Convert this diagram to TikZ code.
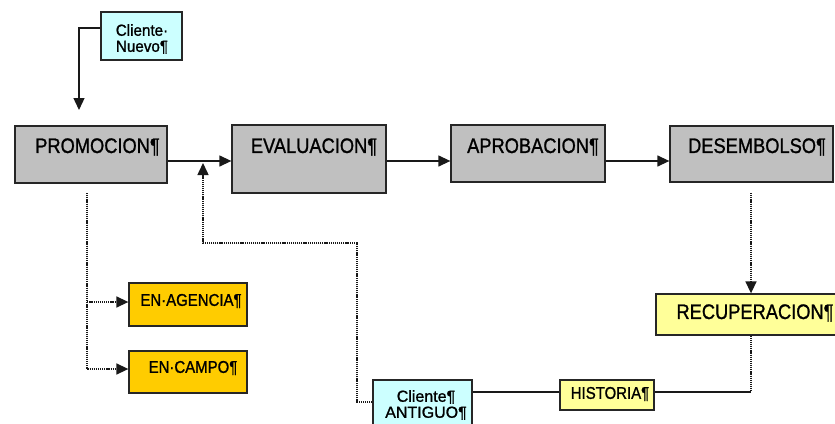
\documentclass[tikz,border=0pt]{standalone}
\usepackage{fontspec}
\setmainfont{Liberation Sans}
\newfontfamily\heavyfont[FakeBold=1.2]{Liberation Sans}
\usetikzlibrary{arrows.meta}
\definecolor{grayfill}{HTML}{C0C0C0}
\definecolor{cyanfill}{HTML}{CCFFFF}
\definecolor{orangefill}{HTML}{FFCC00}
\definecolor{yellowfill}{HTML}{FFFF99}
\newcommand{\bigtxt}[1]{\scalebox{0.87}[1]{#1}}
\newcommand{\midtxt}[1]{\scalebox{0.88}[1]{#1}}
\tikzset{
  box/.style={draw=black!85, line width=1.3pt, rectangle, inner sep=0pt},
  gbox/.style={box, fill=grayfill},
  cbox/.style={box, fill=cyanfill},
  obox/.style={box, fill=orangefill},
  ybox/.style={box, fill=yellowfill},
  biglbl/.style={inner sep=0pt, font=\heavyfont\fontsize{21}{24}\selectfont},
  midlbl/.style={inner sep=0pt, font=\heavyfont\fontsize{17}{20}\selectfont},
  smalllbl/.style={inner sep=0pt, align=center, font=\heavyfont\fontsize{16}{19}\selectfont},
  conn/.style={line width=1.3pt, draw=black!90},
  arr/.style={conn, -{Triangle[length=12pt,width=11pt]}},
  dots/.style={conn, line width=1.5pt, dash pattern=on 1.2pt off 0.9pt},
  darr/.style={dots, -{Triangle[length=12pt,width=11pt]}},
}
\begin{document}
\begin{tikzpicture}[x=1pt,y=-1pt]
\useasboundingbox (0,0) rectangle (835,423);
\clip (0,0) rectangle (835,423);
\fill[white] (0,0) rectangle (835,423);

% boxes
\node[cbox, minimum width=81pt, minimum height=48pt] (nuevo) at (141.5,36) {};
\node[smalllbl] (nuevot) at (142,39) {\scalebox{0.95}[1]{Cliente·}\\[-3pt]\scalebox{0.95}[1]{Nuevo¶}};

\node[gbox, minimum width=152pt, minimum height=57pt] (prom) at (91,154.5) {};
\node[biglbl] (promt) at (97.5,147) {\bigtxt{PROMOCION¶}};

\node[gbox, minimum width=154pt, minimum height=68pt] (eval) at (309,159) {};
\node[biglbl] (evalt) at (314,147) {\bigtxt{EVALUACION¶}};

\node[gbox, minimum width=154pt, minimum height=57pt] (aprob) at (528,153.5) {};
\node[biglbl] (aprobt) at (533,147) {\bigtxt{APROBACION¶}};

\node[gbox, minimum width=163pt, minimum height=56pt] (desem) at (751.5,154) {};
\node[biglbl] (desemt) at (757,147) {\bigtxt{DESEMBOLSO¶}};

\node[ybox, minimum width=183pt, minimum height=41pt] (recup) at (747.5,314.5) {};
\node[biglbl] (recupt) at (755,313) {\bigtxt{RECUPERACION¶}};

\node[obox, minimum width=118pt, minimum height=43pt] (agen) at (188,304.5) {};
\node[midlbl] (agent) at (191,301) {\midtxt{EN·AGENCIA¶}};

\node[obox, minimum width=118pt, minimum height=42pt] (campo) at (188,372) {};
\node[midlbl] (campot) at (193,368) {\midtxt{EN·CAMPO¶}};

\node[ybox, minimum width=94pt, minimum height=30pt] (hist) at (607,395) {};
\node[midlbl] (histt) at (610,394) {\midtxt{HISTORIA¶}};

\node[cbox, minimum width=99pt, minimum height=60pt] (antig) at (422.5,410) {};
\node[smalllbl] (antigt) at (426,405) {Cliente¶\\[-3pt]ANTIGUO¶};

% helper coordinates
\coordinate (nuevoend) at (79,110);
\coordinate (promout) at (87,193);
\coordinate (desemout) at (751,193);
\coordinate (recupturn) at (751,392);
\coordinate (loopA) at (357,402);
\coordinate (loopB) at (357,243);
\coordinate (loopC) at (203,243);
\coordinate (loopend) at (203,163);

% solid connectors
\draw[arr] (nuevo.west |- 0,28) -| (nuevoend);
\draw[arr] (prom.east |- 0,161) -- (eval.west |- 0,161);
\draw[arr] (eval.east |- 0,161) -- (aprob.west |- 0,161);
\draw[arr] (aprob.east |- 0,161) -- (desem.west |- 0,161);
\draw[conn] (recupturn) -- (hist.east |- recupturn);
\draw[conn] (hist.west |- recupturn) -- (antig.east |- recupturn);

% dotted connectors
\draw[darr] (desemout) -- (recup.north -| desemout);
\draw[dots] (recup.south -| recupturn) -- (recupturn);
\draw[darr] (promout) |- (agen.west |- 0,302);
\draw[darr] (promout) |- (campo.west |- 0,369);
\draw[darr] (antig.west |- loopA) -- (loopA) -- (loopB) -- (loopC) -- (loopend);
\end{tikzpicture}
\end{document}
